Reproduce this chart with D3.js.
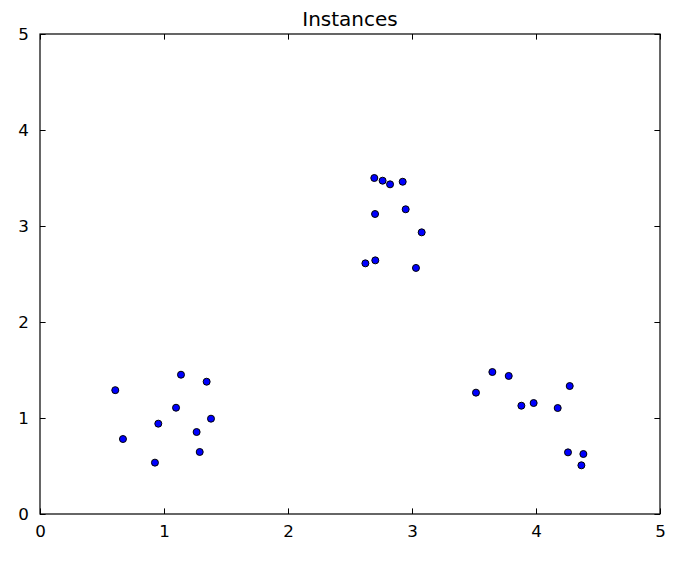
<!DOCTYPE html>
<html>
<head>
<meta charset="utf-8">
<script src="https://cdn.jsdelivr.net/npm/d3@7"></script>
<style>
  body { margin: 0; background: #fff; }
  text { font-family: "DejaVu Sans", sans-serif; fill: #000; }
</style>
</head>
<body>
<div id="chart"></div>
<script>
// point data
var xs = [0.607, 1.137, 1.344, 1.097, 1.379, 0.954, 1.263, 0.669, 1.288, 0.927,
          2.696, 2.763, 2.823, 2.925, 2.702, 2.949, 3.078, 2.624, 2.704, 3.032,
          3.648, 3.780, 3.516, 4.272, 3.882, 3.981, 4.175, 4.258, 4.382, 4.366];
var ys = [1.290, 1.451, 1.378, 1.107, 0.993, 0.941, 0.854, 0.781, 0.646, 0.535,
          3.500, 3.472, 3.434, 3.461, 3.125, 3.174, 2.934, 2.611, 2.642, 2.563,
          1.479, 1.438, 1.264, 1.333, 1.128, 1.156, 1.104, 0.642, 0.625, 0.507];
var xTicks = [0, 1, 2, 3, 4, 5];
var yTicks = [0, 1, 2, 3, 4, 5];
var title = "Instances";

var data = xs.map(function(d, i) { return {x: d, y: ys[i]}; });

// set the dimensions of the canvas
var margin = {top: 34, right: 28, bottom: 49, left: 40},
    width = 688 - margin.left - margin.right,
    height = 563 - margin.top - margin.bottom;

var x = d3.scaleLinear().domain([0, 5]).range([0, width]);
var y = d3.scaleLinear().domain([0, 5]).range([height, 0]);

var svg = d3.select("#chart")
  .append("svg")
  .attr("width", 688)
  .attr("height", 563)
  .append("g")
  .attr("transform", "translate(" + margin.left + "," + margin.top + ")");

var tick = 5.6, pad = 5.6;

// axes, ticks pointing inward on all four sides
function styleAxis(g) {
  g.select(".domain").remove();
  g.selectAll("line").attr("stroke", "#000").attr("stroke-width", 1);
  g.selectAll("text").style("font-size", "16.7px").attr("fill", "#000");
}

svg.append("g")
  .attr("transform", "translate(0," + height + ")")
  .call(d3.axisBottom(x).tickValues(xTicks).tickFormat(d3.format("d"))
    .tickSizeInner(-tick).tickSizeOuter(0).tickPadding(tick + pad))
  .call(styleAxis);

svg.append("g")
  .call(d3.axisLeft(y).tickValues(yTicks).tickFormat(d3.format("d"))
    .tickSizeInner(-tick).tickSizeOuter(0).tickPadding(tick + pad))
  .call(styleAxis);

svg.append("g")
  .call(d3.axisTop(x).tickValues(xTicks).tickFormat("")
    .tickSizeInner(-tick).tickSizeOuter(0))
  .call(styleAxis);

svg.append("g")
  .attr("transform", "translate(" + width + ",0)")
  .call(d3.axisRight(y).tickValues(yTicks).tickFormat("")
    .tickSizeInner(-tick).tickSizeOuter(0))
  .call(styleAxis);

// frame
svg.append("rect")
  .attr("x", 0).attr("y", 0)
  .attr("width", width).attr("height", height)
  .attr("fill", "none")
  .attr("stroke", "#000")
  .attr("stroke-width", 1.2);

// title
svg.append("text")
  .attr("x", width / 2)
  .attr("y", -8)
  .attr("text-anchor", "middle")
  .style("font-size", "20px")
  .text(title);

// scatter points
svg.selectAll(".dot")
  .data(data)
  .enter()
  .append("circle")
  .attr("class", "dot")
  .attr("cx", function(d) { return x(d.x); })
  .attr("cy", function(d) { return y(d.y); })
  .attr("r", 3.5)
  .attr("fill", "#0000ff")
  .attr("stroke", "#000")
  .attr("stroke-width", 1);
</script>
</body>
</html>
